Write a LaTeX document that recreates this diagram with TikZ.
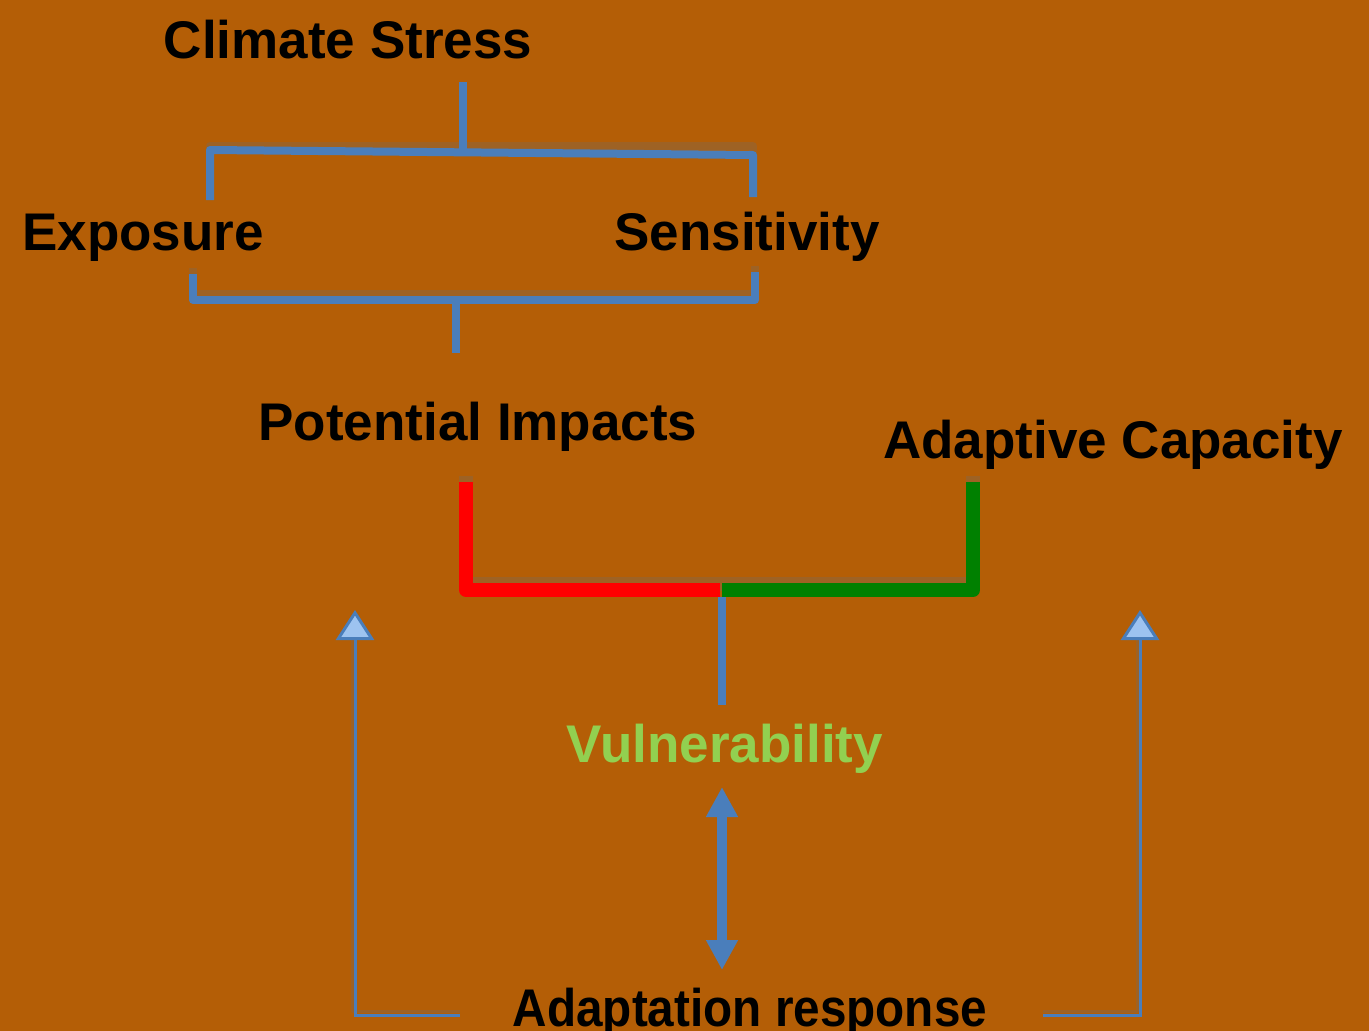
\documentclass[tikz,border=0pt]{standalone}
\usepackage{fontspec}
\setmainfont{Liberation Sans}
\usetikzlibrary{arrows.meta}
\definecolor{bgorange}{RGB}{180,94,6}
\definecolor{lineblue}{RGB}{74,126,187}
\definecolor{tipblue}{RGB}{157,195,240}
\definecolor{impred}{RGB}{255,0,0}
\definecolor{capgreen}{RGB}{0,128,0}
\definecolor{vulngreen}{RGB}{146,208,80}
\definecolor{shade}{RGB}{150,100,50}
\tikzset{
  label/.style={font=\fontsize{53}{60}\selectfont\bfseries, text=black, anchor=base, inner sep=0pt},
  bracket/.style={draw=lineblue, line width=8pt, line join=round},
  dropshadow/.style={draw=shade, opacity=0.7, line join=round},
  feedback/.style={draw=lineblue, line width=3pt,
    -{Triangle[width=38pt,length=30pt,fill=tipblue,line width=3pt]}},
  twoway/.style={draw=lineblue, line width=10pt,
    {Triangle[width=30pt,length=30pt]}-{Triangle[width=30pt,length=30pt]}}
}
\begin{document}
\begin{tikzpicture}[x=1pt,y=-1pt]
\fill[bgorange] (0,0) rectangle (1369,1031);
\useasboundingbox (0,0) rectangle (1369,1031);

% text labels
\node[label] (stress) at (348,58) {Climate Stress};
\node[label] (expo) at (143,250) {Exposure};
\node[label] (sens) at (747,250) {Sensitivity};
\node[label] (impact) at (478,440) {Potential Impacts};
\node[label] (adapt) at (1113,458) {Adaptive Capacity};
\node[label, text=vulngreen] (vuln) at (725,762) {Vulnerability};
\node[label, xscale=0.9] (resp) at (750,1026) {Adaptation response};

% join points of the brackets
\coordinate (s0) at (463,82);
\coordinate (s1) at (463,152);
\coordinate (sl) at (210,200);
\coordinate (sr) at (753,197);
\coordinate (el) at (193,274);
\coordinate (er) at (755,272);
\coordinate (e0) at (456,300);
\coordinate (e1) at (456,353);
\coordinate (pl) at (466,482);
\coordinate (mid) at (720,590);
\coordinate (ar) at (973,482);
\coordinate (v0) at (722,597);
\coordinate (v1) at (722,705);
\coordinate (fl) at (460,1015);
\coordinate (fr) at (1043,1015);

% shadows under the brackets
\draw[dropshadow, line width=8pt] ([yshift=6pt]sl) |- ([yshift=6pt]s1) -| ([yshift=6pt]sr);
\draw[dropshadow, line width=8pt] ([yshift=6pt]el) |- ([yshift=6pt]e0) -| ([yshift=6pt]er);
\draw[dropshadow, line width=14pt] ([yshift=6pt]pl) |- ([yshift=6pt]mid) -| ([yshift=6pt]ar);
\draw[dropshadow, line width=3pt] ([yshift=4pt]fl) -| ([yshift=4pt,xshift=-3pt]355,640);
\draw[dropshadow, line width=3pt] ([yshift=4pt]fr) -| ([yshift=4pt,xshift=-3pt]1140,640);

% climate stress splits into exposure and sensitivity
\draw[bracket] (s0) -- (s1);
\draw[bracket] (sl) -- (210,150) -- (753,155) -- (sr);
% exposure and sensitivity combine into potential impacts
\draw[bracket] (el) |- (e0) -| (er);
\draw[bracket] (e0) -- (e1);
% potential impacts and adaptive capacity combine into vulnerability
\draw[draw=impred, line width=14pt, line join=round] (pl) |- (mid);
\draw[draw=capgreen, line width=14pt, line join=round] (ar) |- ([xshift=2pt]mid);
\draw[draw=lineblue, line width=8pt] (v0) -- (v1);

% vulnerability <-> adaptation response
\draw[twoway] (722,787) -- (722,970);

% adaptation response feeds back
\draw[feedback] (fl) -| (355,610);
\draw[feedback] (fr) -| (1140,610);
\end{tikzpicture}
\end{document}
